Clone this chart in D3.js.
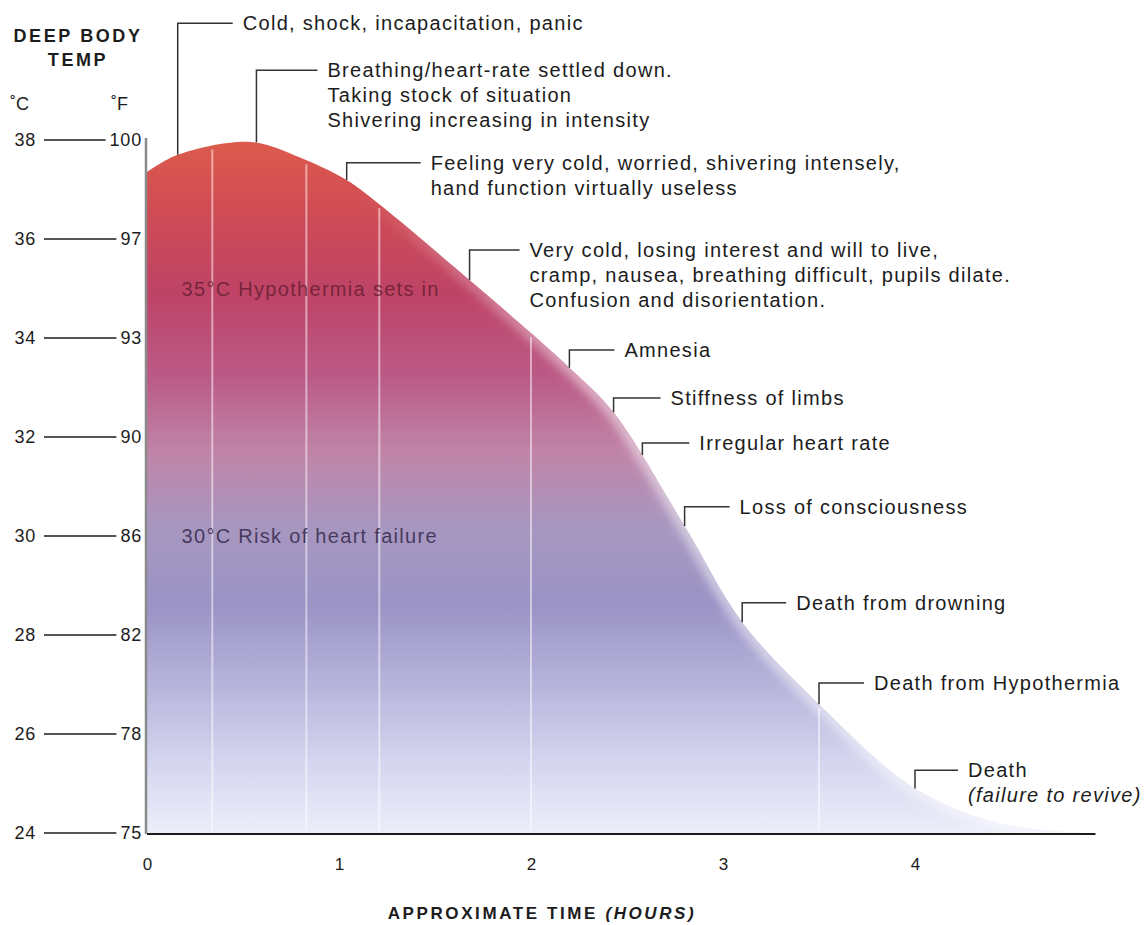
<!DOCTYPE html>
<html>
<head>
<meta charset="utf-8">
<script src="https://cdn.jsdelivr.net/npm/d3@7"></script>
<style>
  body { margin: 0; background: #fff; }
  text { font-family: "Liberation Sans", Arial, sans-serif; fill: #1c1c1c; }
</style>
</head>
<body>
<div id="chart"></div>
<script>
(function () {
    var width = 1144, height = 925;

    // curve: deep body temperature over time
    var timeH = [0, 0.16, 0.54, 0.8, 1.04, 1.21, 1.68, 2.0, 2.2, 2.43, 2.8, 3.1, 3.5, 4.0, 4.44, 4.9];
    var tempC = [37.35, 37.7, 37.96, 37.64, 37.19, 36.7, 35.17, 34.1, 33.4, 32.5, 30.2, 28.26, 26.6, 24.9, 24.2, 24.0];

    // axis ticks
    var celsiusTicks = [38, 36, 34, 32, 30, 28, 26, 24];
    var fahrenheitLabels = ["100", "97", "93", "90", "86", "82", "78", "75"];
    var hourTicks = [0, 1, 2, 3, 4];

    // callouts along the curve
    var calloutTime = [0.16, 0.57, 1.04, 1.68, 2.2, 2.43, 2.58, 2.8, 3.1, 3.5, 4.0];
    var calloutLevel = [40.36, 39.41, 37.54, 35.78, 33.76, 32.79, 31.88, 30.59, 28.65, 27.03, 25.27];
    var calloutLead = [55, 61, 74, 50, 45, 47, 47, 45, 44, 45, 43];
    var calloutText = [
        ["Cold, shock, incapacitation, panic"],
        ["Breathing/heart-rate settled down.", "Taking stock of situation", "Shivering increasing in intensity"],
        ["Feeling very cold, worried, shivering intensely,", "hand function virtually useless"],
        ["Very cold, losing interest and will to live,", "cramp, nausea, breathing difficult, pupils dilate.", "Confusion and disorientation."],
        ["Amnesia"],
        ["Stiffness of limbs"],
        ["Irregular heart rate"],
        ["Loss of consciousness"],
        ["Death from drowning"],
        ["Death from Hypothermia"],
        ["Death", "(failure to revive)"]
    ];

    // threshold labels inside the area
    var zoneTemp = [35, 30];
    var zoneText = ["35\u00b0C Hypothermia sets in", "30\u00b0C Risk of heart failure"];
    var zoneColor = ["#6a1f33", "#35284a"];

    // pale highlight stripes in the fill
    var stripeTime = [0.34, 0.83, 1.21, 2.0, 3.5];

    var svg = d3.select("#chart")
        .append("svg")
        .attr("width", width)
        .attr("height", height);

    var x = d3.scaleLinear().domain([0, 4]).range([147, 915]);
    var y = d3.scaleLinear().domain([24, 38]).range([833, 140]);

    var points = timeH.map(function (t, i) { return [t, tempC[i]]; });
    var curve = d3.curveCatmullRom.alpha(0.5);

    var defs = svg.append("defs");

    // gradient fill, red at the top to pale lavender at the bottom
    var grad = defs.append("linearGradient")
        .attr("id", "bodyTemp")
        .attr("gradientUnits", "userSpaceOnUse")
        .attr("x1", 0).attr("x2", 0)
        .attr("y1", y(38)).attr("y2", y(24));
    [
        [0.00, "#dc5b4c"],
        [0.10, "#d04c54"],
        [0.22, "#be4366"],
        [0.34, "#bb5a86"],
        [0.45, "#c084a8"],
        [0.56, "#a797c0"],
        [0.67, "#9a93c5"],
        [0.79, "#b8b5dc"],
        [0.90, "#d5d6ef"],
        [1.00, "#eceefa"]
    ].forEach(function (s) {
        grad.append("stop").attr("offset", s[0]).attr("stop-color", s[1]);
    });

    // rim highlight fades in along the falling side
    var rim = defs.append("linearGradient")
        .attr("id", "rimFade")
        .attr("gradientUnits", "userSpaceOnUse")
        .attr("x1", x(1.1)).attr("x2", x(2.3))
        .attr("y1", 0).attr("y2", 0);
    rim.append("stop").attr("offset", 0).attr("stop-color", "#fff").attr("stop-opacity", 0);
    rim.append("stop").attr("offset", 1).attr("stop-color", "#fff").attr("stop-opacity", 0.5);

    defs.append("filter")
        .attr("id", "soft")
        .attr("x", "-10%").attr("y", "-10%").attr("width", "120%").attr("height", "120%")
        .append("feGaussianBlur")
        .attr("stdDeviation", 5);

    var area = d3.area()
        .x(function (d) { return x(d[0]); })
        .y0(y(24))
        .y1(function (d) { return y(d[1]); })
        .curve(curve);

    var line = d3.line()
        .x(function (d) { return x(d[0]); })
        .y(function (d) { return y(d[1]); })
        .curve(curve);

    defs.append("clipPath")
        .attr("id", "areaClip")
        .append("path")
        .datum(points)
        .attr("d", area);

    svg.append("path")
        .datum(points)
        .attr("d", area)
        .attr("fill", "url(#bodyTemp)");

    // soft pale rim along the curve
    svg.append("g")
        .attr("clip-path", "url(#areaClip)")
        .append("path")
        .datum(points)
        .attr("d", line)
        .attr("fill", "none")
        .attr("stroke", "url(#rimFade)")
        .attr("stroke-width", 14)
        .attr("filter", "url(#soft)");

    // invisible outline used to find the curve height at a time
    var outline = svg.append("path")
        .datum(points)
        .attr("d", line)
        .attr("fill", "none")
        .attr("stroke", "none");
    var outlineNode = outline.node();
    var outlineLen = outlineNode.getTotalLength();

    function curveY(t) {
        var px = x(t), lo = 0, hi = outlineLen;
        for (var k = 0; k < 40; k++) {
            var mid = (lo + hi) / 2;
            if (outlineNode.getPointAtLength(mid).x < px) lo = mid; else hi = mid;
        }
        return outlineNode.getPointAtLength(lo).y;
    }

    svg.selectAll(".stripe")
        .data(stripeTime)
        .enter().append("line")
        .attr("class", "stripe")
        .attr("x1", function (d) { return x(d); })
        .attr("x2", function (d) { return x(d); })
        .attr("y1", function (d) { return curveY(d) + 4; })
        .attr("y2", y(24) - 2)
        .attr("stroke", "#fff")
        .attr("stroke-opacity", 0.5)
        .attr("stroke-width", 2);

    // zone labels
    svg.selectAll(".zone")
        .data(zoneTemp)
        .enter().append("text")
        .attr("class", "zone")
        .attr("x", x(0.18))
        .attr("y", function (d) { return y(d); })
        .attr("dy", "0.35em")
        .style("font-size", "20px")
        .style("letter-spacing", "1.3px")
        .style("fill", function (d, i) { return zoneColor[i]; })
        .style("fill-opacity", 0.85)
        .text(function (d, i) { return zoneText[i]; });

    // axes lines
    svg.append("line")
        .attr("x1", x(0) - 1).attr("x2", x(0) - 1)
        .attr("y1", y(38) - 2).attr("y2", y(24) + 1)
        .attr("stroke", "#8a8a8a")
        .attr("stroke-width", 2.5);

    svg.append("line")
        .attr("x1", x(0)).attr("x2", x(4.94))
        .attr("y1", y(24) + 1).attr("y2", y(24) + 1)
        .attr("stroke", "#1c1c1c")
        .attr("stroke-width", 2);

    // x axis labels
    var xAxis = svg.append("g")
        .attr("transform", "translate(0," + (y(24) + 22) + ")")
        .call(d3.axisBottom(x).tickValues(hourTicks).tickSize(0).tickFormat(d3.format("d")));
    xAxis.select(".domain").remove();
    xAxis.selectAll("text")
        .style("font-family", "'Liberation Sans', Arial, sans-serif")
        .style("font-size", "17px")
        .style("fill", "#1c1c1c");

    var xTitle = svg.append("text")
        .attr("x", 542)
        .attr("y", 919)
        .attr("text-anchor", "middle")
        .style("font-size", "17px")
        .style("font-weight", "bold")
        .style("letter-spacing", "2.6px");
    xTitle.append("tspan").text("APPROXIMATE TIME ");
    xTitle.append("tspan").style("font-style", "italic").text("(HOURS)");

    // y axis: paired celsius / fahrenheit labels
    svg.append("text")
        .attr("x", 78).attr("y", 42)
        .attr("text-anchor", "middle")
        .style("font-size", "18px").style("font-weight", "bold")
        .style("letter-spacing", "2.6px")
        .text("DEEP BODY");
    svg.append("text")
        .attr("x", 78).attr("y", 66)
        .attr("text-anchor", "middle")
        .style("font-size", "18px").style("font-weight", "bold")
        .style("letter-spacing", "2.6px")
        .text("TEMP");
    svg.append("text")
        .attr("x", 10).attr("y", 110)
        .style("font-size", "18px")
        .text("\u02daC");
    svg.append("text")
        .attr("x", 111).attr("y", 110)
        .style("font-size", "18px")
        .text("\u02daF");

    var rows = svg.selectAll(".trow")
        .data(celsiusTicks)
        .enter().append("g")
        .attr("class", "trow")
        .attr("transform", function (d) { return "translate(0," + y(d) + ")"; });

    rows.append("text")
        .attr("x", 36)
        .attr("dy", "0.36em")
        .attr("text-anchor", "end")
        .style("font-size", "18px")
        .style("letter-spacing", "0.8px")
        .text(function (d) { return d; });

    var fLabels = rows.append("text")
        .attr("x", 142)
        .attr("dy", "0.36em")
        .attr("text-anchor", "end")
        .style("font-size", "18px")
        .style("letter-spacing", "0.8px")
        .text(function (d, i) { return fahrenheitLabels[i]; });

    rows.append("line")
        .attr("x1", 44)
        .attr("x2", function (d, i) {
            return 142 - fLabels.nodes()[i].getComputedTextLength() - 4;
        })
        .attr("stroke", "#1c1c1c")
        .attr("stroke-width", 1.5);

    // callouts
    var callouts = svg.selectAll(".callout")
        .data(calloutTime)
        .enter().append("g")
        .attr("class", "callout");

    callouts.append("path")
        .attr("d", function (d, i) {
            var cx = x(d), top = y(calloutLevel[i]);
            return "M" + cx + "," + curveY(d) + "V" + top + "H" + (cx + calloutLead[i]);
        })
        .attr("fill", "none")
        .attr("stroke", "#333")
        .attr("stroke-width", 1.5);

    callouts.each(function (d, i) {
        var g = d3.select(this);
        var tx = x(d) + calloutLead[i] + 10, ty = y(calloutLevel[i]);
        calloutText[i].forEach(function (s, j) {
            g.append("text")
                .attr("x", tx)
                .attr("y", ty + j * 25)
                .attr("dy", "0.35em")
                .style("font-size", "20px")
                .style("letter-spacing", "1.3px")
                .style("font-style", s.charAt(0) === "(" ? "italic" : "normal")
                .text(s);
        });
    });
})();
</script>
</body>
</html>
